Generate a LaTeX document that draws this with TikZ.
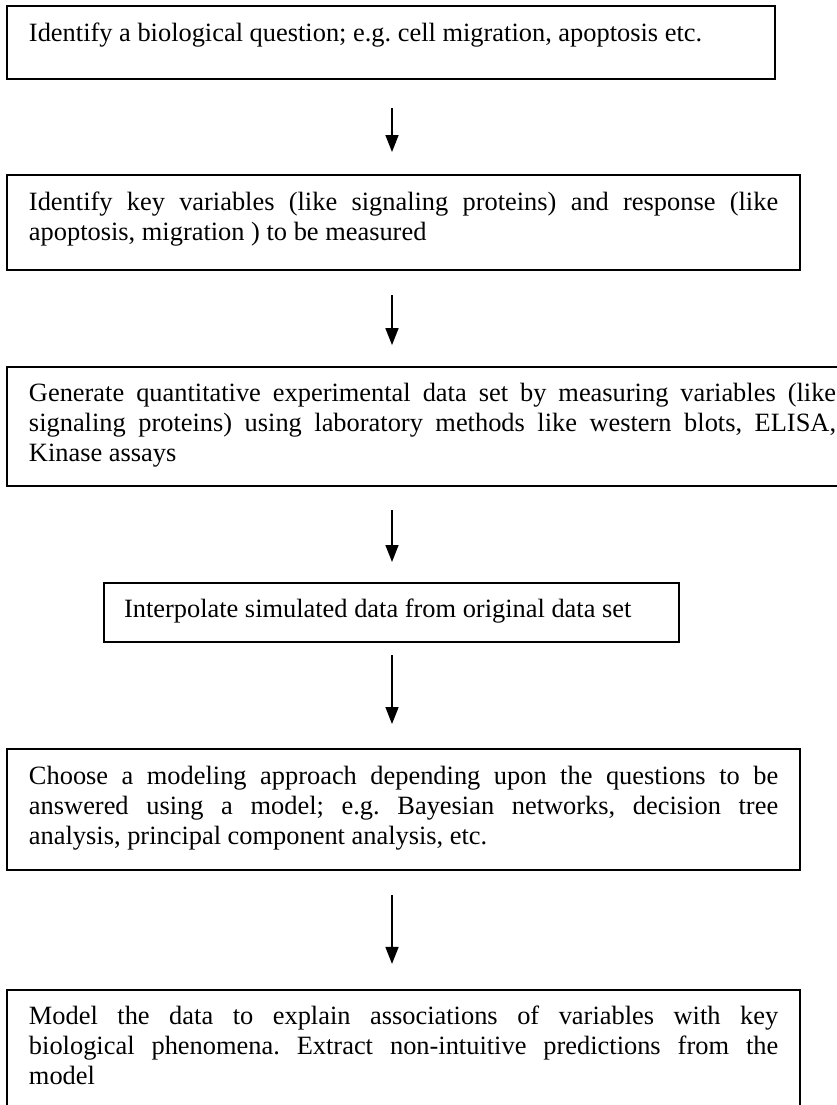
\documentclass[tikz,border=0pt]{standalone}
\usepackage{fontspec}
\setmainfont{Liberation Serif}
\usetikzlibrary{arrows.meta}
\newcommand\boxpar[4]{\parbox[c][#2][t]{#1}{\fontsize{12}{13.7}\selectfont\frenchspacing\tolerance=10000\hbadness=10000\hyphenpenalty=10000\rule{0pt}{#3}#4}}
\tikzset{
  flowbox/.style={draw, line width=0.9pt, inner xsep=10pt, inner ysep=0pt, anchor=north west},
  flowarrow/.style={line width=0.7pt, -{Triangle[length=7.7pt,width=5.9pt]}}
}
\begin{document}
\begin{tikzpicture}[x=0.4545pt,y=-0.4545pt]
\useasboundingbox (0,0) rectangle (836,1105);
\coordinate (ax) at (392,0);
\node[flowbox] (b1) at (6,5) {\boxpar{329.1pt}{33.2pt}{16.1pt}{Identify a biological question; e.g. cell migration, apoptosis etc.}};
\node[flowbox] (b2) at (6,174) {\boxpar{340.5pt}{43.2pt}{16.1pt}{Identify key variables (like signaling proteins) and response (like\linebreak apoptosis, migration ) to be measured}};
\node[flowbox] (b3) at (6,366) {\boxpar{366.8pt}{54.1pt}{15.5pt}{Generate quantitative experimental data set by measuring variables (like\linebreak signaling proteins) using laboratory methods like western blots, ELISA,\linebreak Kinase assays}};
\node[flowbox, inner xsep=9.1pt] (b4) at (103,582) {\boxpar{243.2pt}{26.8pt}{15.9pt}{Interpolate simulated data from original data set}};
\node[flowbox] (b5) at (6,748) {\boxpar{340.5pt}{55pt}{16.1pt}{Choose a modeling approach depending upon the questions to be\linebreak answered using a model; e.g. Bayesian networks, decision tree\linebreak analysis, principal component analysis, etc.}};
\node[flowbox] (b6) at (6,989) {\boxpar{340.5pt}{63.6pt}{15.5pt}{Model the data to explain associations of variables with key\linebreak biological phenomena. Extract non-intuitive predictions from the\linebreak model}};
\draw[flowarrow, shorten <=12.7pt, shorten >=10pt] (b1.south -| ax) -- (b2.north -| ax);
\draw[flowarrow, shorten <=10.9pt, shorten >=9.5pt] (b2.south -| ax) -- (b3.north -| ax);
\draw[flowarrow, shorten <=10.5pt, shorten >=9.1pt] (b3.south -| ax) -- (b4.north -| ax);
\draw[flowarrow, shorten <=5.5pt, shorten >=10.9pt] (b4.south -| ax) -- (b5.north -| ax);
\draw[flowarrow, shorten <=10.9pt, shorten >=11.4pt] (b5.south -| ax) -- (b6.north -| ax);
\end{tikzpicture}
\end{document}
